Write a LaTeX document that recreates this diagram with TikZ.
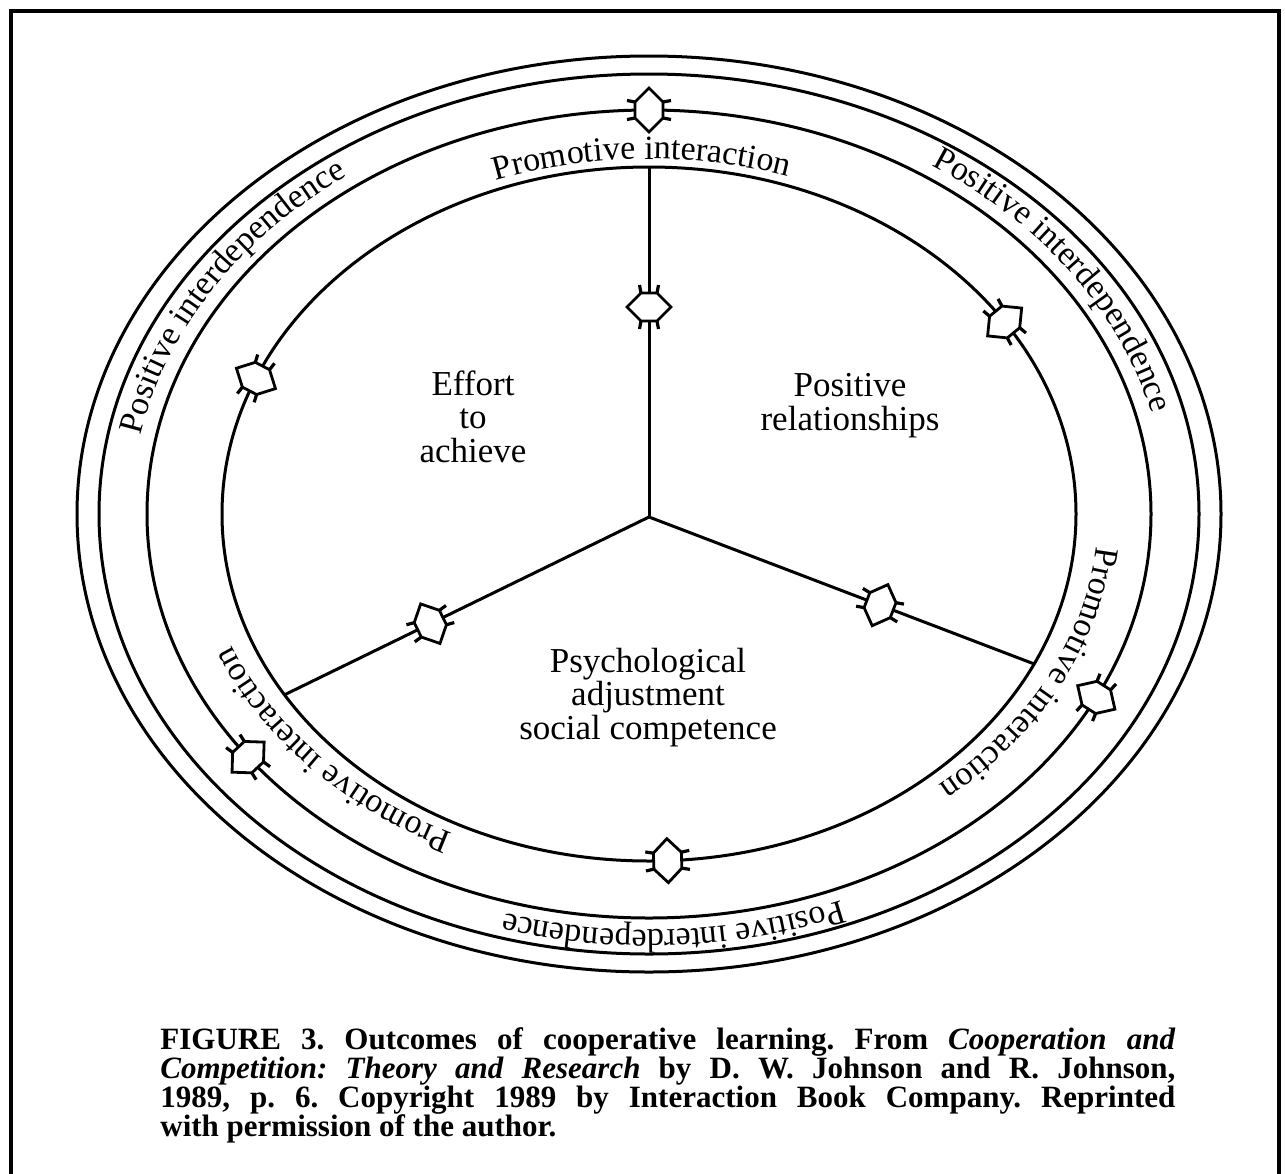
\documentclass[tikz,border=0pt]{standalone}
\usepackage{fontspec}
\setmainfont{Liberation Serif}
\usetikzlibrary{calc,decorations.text}
\newcommand\ringfont{\fontsize{17}{17}\selectfont}
\tikzset{ring/.style={line width=1.5pt},spoke/.style={line width=1.5pt},
 lbl/.style={align=center,inner sep=0pt,font=\fontsize{17.5}{16.75}\selectfont},
 dhex/.pic={\draw[line width=1.4pt,fill=white] (-14,-8)--(-14,8)--(0,22)--(14,8)--(14,-8)--(0,-22)--cycle;
  \draw[line width=1.6pt] (-14,8)--(-22,9.5) (-14,-8)--(-22,-9.5) (14,8)--(22,9.5) (14,-8)--(22,-9.5);},
 ringtext/.style={decorate,decoration={text along path,text align=center,text={|\ringfont|#1}}}}
\begin{document}
\begin{tikzpicture}[x=0.5pt,y=0.5pt]
\useasboundingbox (0,0) rectangle (1285,-1173);
\draw[line width=2pt] (10.5,-1180)--(10.5,-10.5)--(1279,-10.5)--(1279,-1180);
\begin{scope}[shift={(649,-514)}]
% rings
\draw[ring] (0,0) ellipse[x radius=572,y radius=458];
\draw[ring] (0,0) ellipse[x radius=550,y radius=440];
\draw[ring] (0,0) ellipse[x radius=502,y radius=404];
\draw[ring] (0,0) ellipse[x radius=427,y radius=347];
% spokes
\coordinate (hub) at (0,-3);
\coordinate (eT) at (90:427 and 347);
\coordinate (eL) at (211.4:427 and 347);
\coordinate (eR) at (334.4:427 and 347);
\foreach \e/\a in {eT/90,eL/206,eR/-20.9}{
 \draw[spoke] (hub)--(\e);
 \pic[rotate=\a] at ($(hub)!.6!(\e)$) {dhex};}
% markers on the rings
\foreach \t in {90,217,333}{\pic[rotate={atan2(404*cos(\t),-502*sin(\t))}] at (\t:502 and 404) {dhex};}
\foreach \t in {33.6,157,272.5}{\pic[rotate={atan2(347*cos(\t),-427*sin(\t))}] at (\t:427 and 347) {dhex};}
% ring labels
\path[ringtext={Promotive interaction}] (131:449 and 355) arc[start angle=131,end angle=51,x radius=449,y radius=355];
\path[ringtext={Promotive interaction}] (14:449 and 355) arc[start angle=14,end angle=-66,x radius=449,y radius=355];
\path[ringtext={Promotive interaction}] (261:449 and 355) arc[start angle=261,end angle=181,x radius=449,y radius=355];
\path[ringtext={Positive interdependence}] (189:518 and 416) arc[start angle=189,end angle=109,x radius=518,y radius=416];
\path[ringtext={Positive interdependence}] (73.75:518 and 416) arc[start angle=73.75,end angle=-6.25,x radius=518,y radius=416];
\path[ringtext={Positive interdependence}] (313:518 and 416) arc[start angle=313,end angle=233,x radius=518,y radius=416];
\end{scope}
% outcomes
\node[lbl,anchor=base] (effort) at (473,-462) {Effort\\to\\achieve};
\node[lbl,anchor=base] (posrel) at (850,-430) {Positive\\relationships};
\node[lbl,anchor=base] (psych) at (648,-739) {Psychological\\adjustment\\social competence};
% caption
\node[anchor=north west,inner sep=0pt,text width=507.5pt,align=justify,font=\fontsize{15.5}{14.5}\selectfont\bfseries\frenchspacing] (cap) at (160,-1027)
 {FIGURE 3. Outcomes of cooperative learning. From \textit{Cooperation and}\linebreak
 \textit{Competition: Theory and Research} by D.~W. Johnson and R. Johnson,\linebreak
 1989, p.~6. Copyright 1989 by Interaction Book Company. Reprinted\linebreak
 with permission of the author.};
\end{tikzpicture}
\end{document}
